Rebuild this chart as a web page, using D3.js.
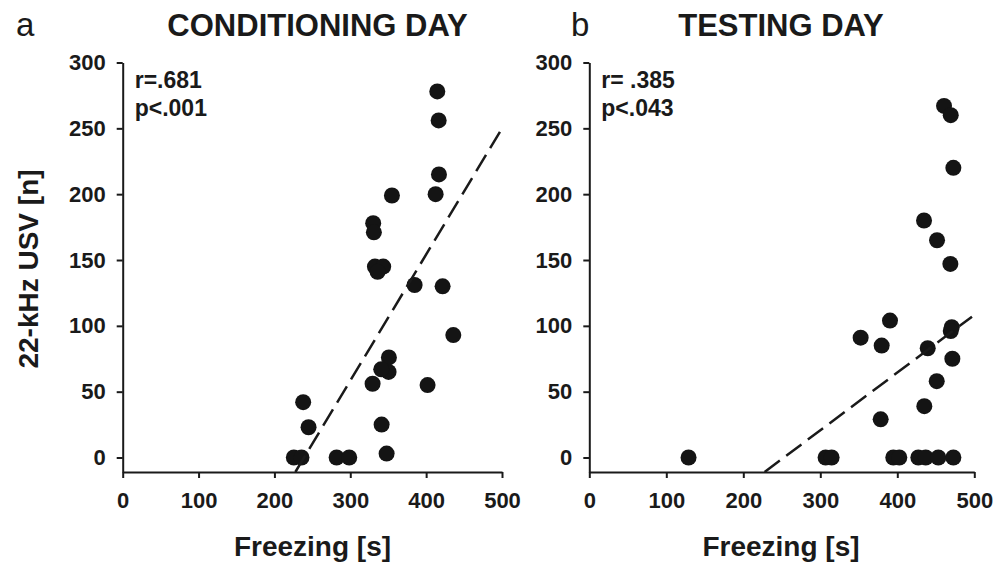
<!DOCTYPE html>
<html>
<head>
    <title>22-kHz USV vs Freezing</title>
    <style>
        body { margin: 0; background: #ffffff; }
        text { font-family: "Liberation Sans", Arial, sans-serif; fill: #1a1a1a; }
        .tick text { font-size: 22px; font-weight: bold; }
        .axis path, .axis line { stroke: #1a1a1a; stroke-width: 2px; }
        .title { font-size: 31px; font-weight: bold; }
        .letter { font-size: 33px; }
        .stat { font-size: 23px; font-weight: bold; }
        .x-label { font-size: 28px; font-weight: bold; }
        .y-label { font-size: 28px; font-weight: bold; }
    </style>
    <script src="https://d3js.org/d3.v7.min.js"></script>
</head>
<body>
    <div id="chart"></div>
    <script>
        // values
        var condFreezing = [414.7, 416.5, 416.9, 412.5, 354.9, 330.2, 331.1, 332.5, 343.4, 336, 384.8, 421.7, 435.8,
                            350.9, 350.5, 340.8, 329.4, 401.9, 237.9, 245, 341.3, 347.9, 225.6, 235.7, 282, 298.6];
        var condUSV = [278, 256, 215, 200, 199, 178, 171, 145, 145, 141, 131, 130, 93,
                       76, 65, 67, 56, 55, 42, 23, 25, 3, 0, 0, 0, 0];
        var testFreezing = [460.7, 469.4, 472.8, 434.7, 451.6, 468.9, 390.5, 352.4, 379.7, 470.7, 469.4, 439.5, 471.5,
                            451.2, 435.1, 378.4, 128.9, 306.9, 314.7, 394.8, 402.6, 427.3, 436.9, 453.3, 472.8];
        var testUSV = [267, 260, 220, 180, 165, 147, 104, 91, 85, 99, 96, 83, 75,
                       58, 39, 29, 0, 0, 0, 0, 0, 0, 0, 0, 0];

        // regression lines (end points in data units)
        var condFitX = [227.6, 500];
        var condFitY = [-11, 250];
        var testFitX = [227.7, 497];
        var testFitY = [-11, 107];

        var xTicks = [0, 100, 200, 300, 400, 500];
        var yTicks = [0, 50, 100, 150, 200, 250, 300];

        var svg = d3.select('#chart')
            .append('svg')
            .attr('width', 1005)
            .attr('height', 564);

        var y = d3.scaleLinear()
            .domain([-11, 300])
            .range([472, 62.5]);

        function panel(opts) {
            var x = d3.scaleLinear()
                .domain([0, 500])
                .range(opts.range);

            var g = svg.append('g');

            g.append('g')
                .attr('class', 'axis')
                .attr('transform', 'translate(0,' + y(-11) + ')')
                .call(d3.axisBottom(x).tickValues(xTicks).tickSize(6).tickSizeOuter(0).tickPadding(14));

            g.append('g')
                .attr('class', 'axis')
                .attr('transform', 'translate(' + x(0) + ',0)')
                .call(d3.axisLeft(y).tickValues(yTicks).tickSize(6).tickSizeOuter(0).tickPadding(11));

            g.selectAll('.axis .tick text').attr('fill', '#1a1a1a');

            var pts = opts.fx.map(function(d, i) { return { x: d, y: opts.fy[i] }; });

            g.selectAll('circle')
                .data(pts)
                .enter()
                .append('circle')
                .attr('cx', function(d) { return x(d.x); })
                .attr('cy', function(d) { return y(d.y); })
                .attr('r', 8)
                .style('fill', '#141414');

            g.append('line')
                .attr('x1', x(opts.lineX[0]))
                .attr('y1', y(opts.lineY[0]))
                .attr('x2', x(opts.lineX[1]))
                .attr('y2', y(opts.lineY[1]))
                .style('stroke', '#1a1a1a')
                .style('stroke-width', 2.5)
                .style('stroke-dasharray', '19,8');

            g.append('text')
                .attr('class', 'title')
                .attr('x', opts.titleX)
                .attr('y', 36)
                .style('text-anchor', 'middle')
                .text(opts.title);

            g.append('text')
                .attr('class', 'letter')
                .attr('x', opts.letterX)
                .attr('y', 36)
                .text(opts.letter);

            g.append('text')
                .attr('class', 'stat')
                .attr('x', x(0) + 12)
                .attr('y', 88)
                .text(opts.r);

            g.append('text')
                .attr('class', 'stat')
                .attr('x', x(0) + 12)
                .attr('y', 116)
                .text(opts.p);

            g.append('text')
                .attr('class', 'x-label')
                .attr('x', opts.xLabelX)
                .attr('y', 556)
                .style('text-anchor', 'middle')
                .text('Freezing [s]');

            return x;
        }

        panel({
            range: [122.7, 502], fx: condFreezing, fy: condUSV,
            lineX: condFitX, lineY: condFitY,
            title: 'CONDITIONING DAY', titleX: 317.5, letter: 'a', letterX: 16,
            r: 'r=.681', p: 'p<.001', xLabelX: 312.5
        });

        panel({
            range: [589.3, 974.3], fx: testFreezing, fy: testUSV,
            lineX: testFitX, lineY: testFitY,
            title: 'TESTING DAY', titleX: 781, letter: 'b', letterX: 571,
            r: 'r= .385', p: 'p<.043', xLabelX: 781
        });

        svg.append('text')
            .attr('class', 'y-label')
            .attr('transform', 'rotate(-90)')
            .attr('x', -269)
            .attr('y', 38)
            .style('text-anchor', 'middle')
            .text('22-kHz USV [n]');
    </script>
</body>
</html>
